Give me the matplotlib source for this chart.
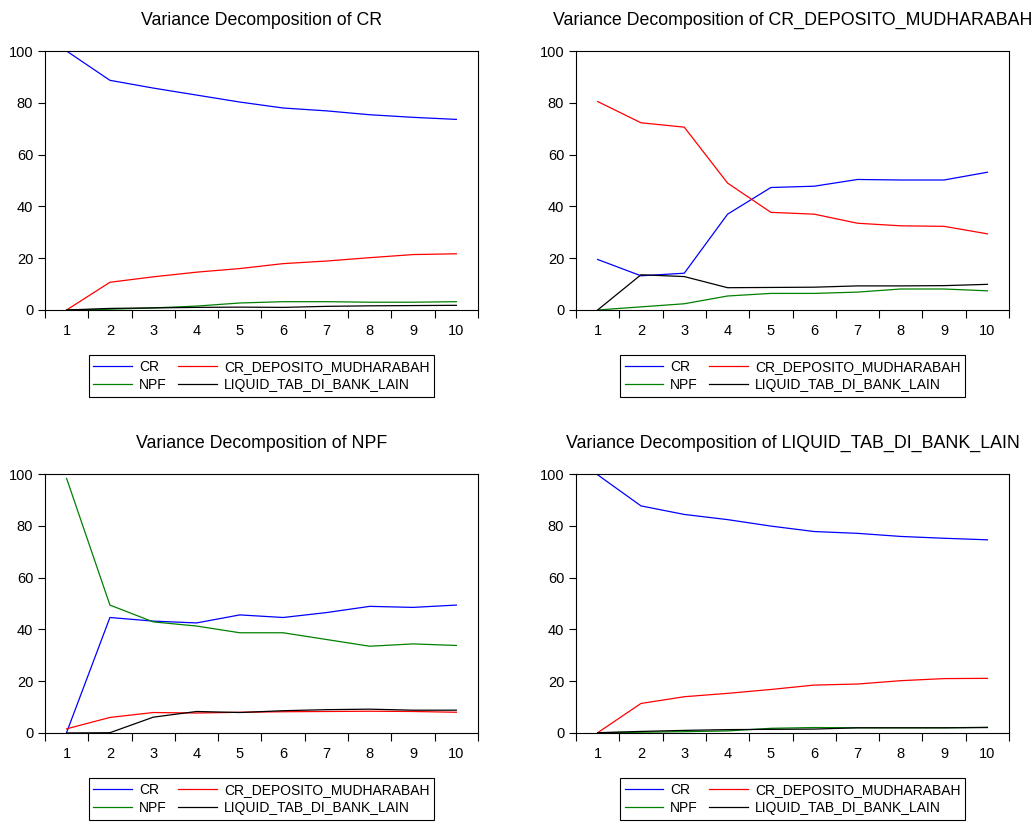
import matplotlib
matplotlib.use("Agg")
import matplotlib.pyplot as plt
from matplotlib.ticker import FixedLocator, NullFormatter

plt.rcParams['font.family'] = ['Liberation Sans', 'DejaVu Sans']

periods = [1, 2, 3, 4, 5, 6, 7, 8, 9, 10]
series_names = ['CR', 'CR_DEPOSITO_MUDHARABAH', 'NPF', 'LIQUID_TAB_DI_BANK_LAIN']
colors = ['#0000FF', '#FF0000', '#008000', '#000000']

# variance decomposition of CR
cr_cr = [100, 88.7, 85.7, 83.0, 80.3, 78.0, 76.9, 75.4, 74.4, 73.6]
cr_dep = [0, 10.7, 12.8, 14.6, 16.0, 17.9, 18.9, 20.2, 21.4, 21.7]
cr_npf = [0, 0.3, 0.8, 1.5, 2.7, 3.2, 3.2, 3.0, 3.0, 3.2]
cr_liq = [0, 0.6, 0.8, 1.0, 1.1, 1.0, 1.4, 1.6, 1.7, 1.8]

# variance decomposition of CR_DEPOSITO_MUDHARABAH
dep_cr = [19.5, 13.2, 14.2, 37.0, 47.3, 47.8, 50.4, 50.2, 50.2, 53.2]
dep_dep = [80.5, 72.3, 70.6, 49.0, 37.7, 37.0, 33.5, 32.5, 32.3, 29.4]
dep_npf = [0, 1.2, 2.4, 5.4, 6.4, 6.4, 6.9, 8.1, 8.1, 7.4]
dep_liq = [0, 13.6, 12.9, 8.6, 8.7, 8.8, 9.3, 9.3, 9.4, 9.9]

# variance decomposition of NPF
npf_cr = [0.2, 44.6, 43.2, 42.5, 45.6, 44.6, 46.5, 48.9, 48.5, 49.4]
npf_dep = [1.6, 6.0, 7.9, 7.7, 8.0, 8.2, 8.3, 8.4, 8.3, 8.0]
npf_npf = [98.3, 49.4, 42.9, 41.3, 38.7, 38.7, 36.1, 33.5, 34.4, 33.8]
npf_liq = [0, 0.1, 6.1, 8.3, 7.9, 8.6, 9.0, 9.2, 8.8, 8.8]

# variance decomposition of LIQUID_TAB_DI_BANK_LAIN
liq_cr = [99.7, 87.7, 84.4, 82.4, 79.9, 77.8, 77.1, 75.9, 75.2, 74.6]
liq_dep = [0.1, 11.4, 14.0, 15.3, 16.8, 18.5, 18.9, 20.2, 21.0, 21.1]
liq_npf = [0.1, 0.3, 0.5, 0.8, 1.8, 2.1, 2.0, 2.0, 2.0, 2.2]
liq_liq = [0.1, 0.6, 1.0, 1.3, 1.4, 1.5, 2.0, 2.0, 2.0, 2.1]

panels = [
    ('Variance Decomposition of CR', [cr_cr, cr_dep, cr_npf, cr_liq]),
    ('Variance Decomposition of CR_DEPOSITO_MUDHARABAH', [dep_cr, dep_dep, dep_npf, dep_liq]),
    ('Variance Decomposition of NPF', [npf_cr, npf_dep, npf_npf, npf_liq]),
    ('Variance Decomposition of LIQUID_TAB_DI_BANK_LAIN', [liq_cr, liq_dep, liq_npf, liq_liq]),
]

fig = plt.figure(figsize=(10.36, 8.22), dpi=100)
positions = [
    [0.0434, 0.6229, 0.418, 0.315],
    [0.556, 0.6229, 0.418, 0.315],
    [0.0434, 0.1083, 0.418, 0.315],
    [0.556, 0.1083, 0.418, 0.315],
]

for pos, (title, data) in zip(positions, panels):
    ax = fig.add_axes(pos)
    lines = []
    for vals, name, c in zip(data, series_names, colors):
        ln, = ax.plot(periods, vals, color=c, lw=0.9, label=name)
        lines.append(ln)
    ax.set_xlim(0.5, 10.5)
    ax.set_ylim(0, 100)
    ax.set_yticks([0, 20, 40, 60, 80, 100])
    # labels on the periods, tick marks between them
    ax.set_xticks(periods)
    ax.xaxis.set_minor_locator(FixedLocator([p - 0.5 for p in periods] + [10.5]))
    ax.xaxis.set_minor_formatter(NullFormatter())
    ax.tick_params(axis='x', which='major', length=0, pad=10, labelsize=10.5)
    ax.tick_params(axis='x', which='minor', length=6, direction='out', width=0.8)
    ax.tick_params(axis='y', length=5, direction='out', width=0.8, labelsize=10.5)
    for s in ax.spines.values():
        s.set_linewidth(0.8)
    ax.set_title(title, fontsize=12.8, pad=19)
    # row-wise order: CR, CR_DEP / NPF, LIQ
    order = [0, 2, 1, 3]
    leg = ax.legend([lines[i] for i in order], [series_names[i] for i in order],
                    ncol=2, loc='upper center', bbox_to_anchor=(0.5, -0.175),
                    fontsize=10, fancybox=False, edgecolor='black', framealpha=1,
                    handlelength=2.8, columnspacing=0.8, handletextpad=0.5,
                    borderpad=0.35, labelspacing=0.3, borderaxespad=0)
    leg.get_frame().set_linewidth(0.8)

fig.savefig('out.png', dpi=100)
